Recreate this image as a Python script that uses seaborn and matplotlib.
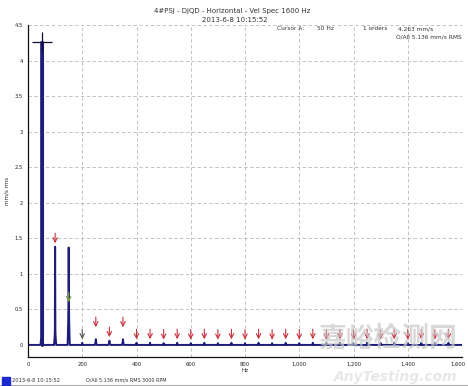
import numpy as np
import pandas as pd
import matplotlib
matplotlib.use("Agg")
import matplotlib.pyplot as plt
import matplotlib.transforms as mtransforms
import seaborn as sns

# ---------------- data ----------------
peak_freqs = [50, 100, 150, 200, 250, 300, 350, 400, 450, 500, 550, 600, 650, 700, 750, 800,
              850, 900, 950, 1000, 1050, 1100, 1150, 1200, 1250, 1300, 1350, 1400, 1450, 1500, 1550]
peak_amps = [4.263, 1.38, 1.37, 0.03, 0.08, 0.06, 0.08, 0.03, 0.03, 0.025, 0.03, 0.025, 0.03, 0.025, 0.03, 0.025,
             0.03, 0.025, 0.03, 0.025, 0.03, 0.025, 0.03, 0.025, 0.03, 0.025, 0.03, 0.025, 0.03, 0.025, 0.03]
base_bump = [0.15, 0.2, 0.55, 0.0, 0.04, 0.03, 0.04, 0.0, 0.0, 0.0, 0.0, 0.0, 0.0, 0.0, 0.0, 0.0,
             0.0, 0.0, 0.0, 0.0, 0.0, 0.0, 0.0, 0.0, 0.0, 0.0, 0.0, 0.0, 0.0, 0.0, 0.0]
arrow_freqs = [100, 150] + peak_freqs[3:]
arrow_amps = [1.38, 0.55] + peak_amps[3:]
arrow_lift = [0.0, 0.0, 0.0, 0.12, 0.0, 0.12] + [0.0] * (len(peak_freqs) - 6)
arrow_colors = ['#c83040', '#7aa040', '#555555'] + ['#c83040'] * (len(peak_freqs) - 4)
cursor_freq, cursor_amp = 50, 4.263
x_ticks = [0, 200, 400, 600, 800, 1000, 1200, 1400, 1600]
x_labels = ['0', '200', '400', '600', '800', '1,000', '1,200', '1,400', '1,600']
y_ticks = [0, 0.5, 1, 1.5, 2, 2.5, 3, 3.5, 4, 4.5]
y_labels = ['0', '0.5', '1', '1.5', '2', '2.5', '3', '3.5', '4', '4.5']

# build spectrum trace from peak lists
fx, fy = [0.0], [0.0]
for f, a, b in zip(peak_freqs, peak_amps, base_bump):
    fx += [f - 4, f - 1.8, f - 1.0, f, f + 1.0, f + 1.8, f + 4]
    fy += [0.0, b * 0.6, b, a, b, b * 0.6, 0.0]
fx += [1600.0]
fy += [0.0]
spec = pd.DataFrame({'Hz': fx, 'amp': fy})

# ---------------- figure ----------------
sns.set_style('white')
plt.rcParams['font.family'] = ['DejaVu Sans', 'Noto Sans CJK SC']
fig = plt.figure(figsize=(4.68, 3.86), dpi=100)
ax = fig.add_axes([28 / 468, 29 / 386, 434 / 468, 332 / 386])

sns.lineplot(data=spec, x='Hz', y='amp', ax=ax, color='#1c1c7a', linewidth=1.4,
             sort=False, estimator=None)
ax.plot([cursor_freq, cursor_freq], [0, cursor_amp], color='#1c1c7a', linewidth=2.2)

# harmonic arrows
for f, a, l, c in zip(arrow_freqs, arrow_amps, arrow_lift, arrow_colors):
    ax.annotate('', xy=(f, a + l + 0.01), xytext=(f, a + l + 0.23),
                arrowprops=dict(arrowstyle='->', color=c, lw=0.8, mutation_scale=8))

# cursor crosshair
ax.plot([cursor_freq], [cursor_amp], marker='+', markersize=15, mew=0.9, color='#111133')

ax.set_xlim(0, 1600)
ax.set_ylim(-0.17, 4.5)
ax.set_xticks(x_ticks)
ax.set_xticklabels(x_labels)
ax.set_yticks(y_ticks)
ax.set_yticklabels(y_labels)
ax.set_xticks(np.arange(0, 1601, 50), minor=True)
ax.tick_params(axis='both', labelsize=3.8, length=2, width=0.6, pad=1.5, colors='#222222')
ax.tick_params(axis='x', which='minor', length=1.2, width=0.4)
last = ax.get_xticklabels()[-1]
last.set_transform(last.get_transform() + mtransforms.ScaledTranslation(-4 / 100, 0, fig.dpi_scale_trans))
ax.grid(True, which='major', linestyle=(0, (4, 3)), color='#b8b8b8', linewidth=0.6)
for s in ['top', 'right']:
    ax.spines[s].set_visible(False)
for s in ['left', 'bottom']:
    ax.spines[s].set_color('#111111')
    ax.spines[s].set_linewidth(0.9)
ax.set_xlabel('Hz', fontsize=4, labelpad=0.5)
ax.set_ylabel('mm/s rms', fontsize=4, labelpad=4)

# header texts
fs = 5
fig.text(232 / 468, 1 - 11 / 386, '4#PSJ - DJQD - Horizontal - Vel Spec 1600 Hz', ha='center', va='center', fontsize=fs, color='#333333')
fig.text(235 / 468, 1 - 20 / 386, '2013-6-8 10:15:52', ha='center', va='center', fontsize=fs, color='#333333')
fig.text(277 / 468, 1 - 29 / 386, 'Cursor A:', ha='left', va='center', fontsize=4.2, color='#333333')
fig.text(317 / 468, 1 - 29 / 386, '50 Hz', ha='left', va='center', fontsize=4.2, color='#333333')
fig.text(363 / 468, 1 - 29 / 386, '1 orders', ha='left', va='center', fontsize=4.2, color='#333333')
fig.text(398 / 468, 1 - 29 / 386, '4.263 mm/s', ha='left', va='center', fontsize=4.2, color='#333333')
fig.text(462 / 468, 1 - 37 / 386, 'O/All 5.136 mm/s RMS', ha='right', va='center', fontsize=4.2, color='#333333')

# bottom legend bar
fig.patches.append(plt.Rectangle((2 / 468, 1 - 385 / 386), 8 / 468, 8 / 386, transform=fig.transFigure,
                                 color='#1a2ad0', zorder=5))
fig.text(12 / 468, 1 - 380 / 386, '2013-6-8 10:15:52', ha='left', va='center', fontsize=3.7, color='#333333')
fig.text(86 / 468, 1 - 380 / 386, 'O/All 5.136 mm/s RMS', ha='left', va='center', fontsize=3.5, color='#333333')
fig.text(142 / 468, 1 - 380 / 386, '3000 RPM', ha='left', va='center', fontsize=3.5, color='#333333')
fig.add_artist(plt.Line2D([0, 1], [1 - 385 / 386, 1 - 385 / 386], transform=fig.transFigure,
                          color='#aaaaaa', linewidth=0.8))

# watermark
fig.text(388 / 468, 1 - 339 / 386, '嘉峪检测网', ha='center', va='center', fontsize=20,
         family=['Noto Sans CJK SC', 'DejaVu Sans'], color='#c8c8c8', alpha=0.7, weight='bold')
fig.text(396 / 468, 1 - 377 / 386, 'AnyTesting.com', ha='center', va='center', fontsize=10,
         style='italic', weight='bold', color='#e2e2e2', alpha=0.8)

fig.savefig('out.png', dpi=100)
